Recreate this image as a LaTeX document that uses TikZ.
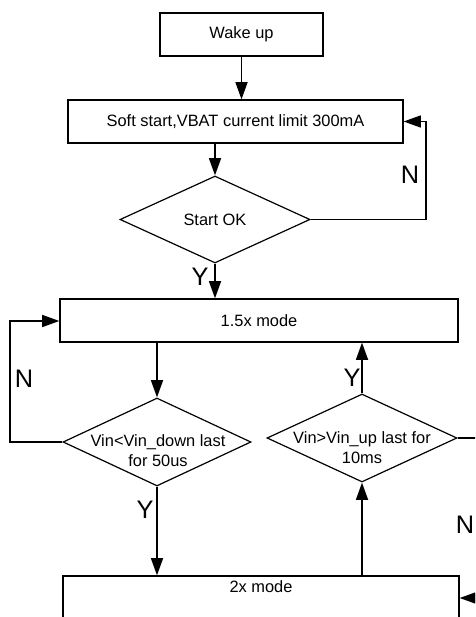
\documentclass[tikz,border=0pt]{standalone}
\usepackage{fontspec}
\setmainfont{Liberation Sans}
\usetikzlibrary{arrows.meta,shapes.geometric}
\begin{document}
\begin{tikzpicture}[x=0.75pt,y=-0.75pt,
  box/.style={draw, rectangle, line width=0.9pt, inner sep=0pt, font=\fontsize{12.3}{14}\selectfont},
  dia/.style={draw, diamond, line width=0.9pt, inner sep=0pt},
  txt/.style={font=\fontsize{12.3}{15}\selectfont, align=center, inner sep=0pt},
  yn/.style={font=\fontsize{19}{22}\selectfont, inner sep=0pt},
  conn/.style={line width=1.3pt, -{Triangle[length=13pt,width=9pt]}},
  thickline/.style={line width=1.3pt}]
\useasboundingbox (0,0) rectangle (475,617);
\clip (0,0) rectangle (475,617);

\node[box, minimum width=122.25pt, minimum height=32.25pt] (wake) at (241.5,34.5) {Wake up};
\node[box, minimum width=251.25pt, minimum height=32.25pt] (soft) at (235.5,121.5) {Soft start,VBAT current limit 300mA};
\node[dia, minimum width=142.5pt, minimum height=65.25pt] (ok) at (215,219.5) {};
\node[txt] (oktxt) at (ok) {Start OK};
\node[box, minimum width=298.5pt, minimum height=32.25pt] (fifteen) at (259,320.5) {1.5x mode};
\node[dia, minimum width=141pt, minimum height=66pt] (d1) at (157,442) {};
\node[txt] (d1txt) at (158,451) {Vin<Vin\_down last\\for 50us};
\node[dia, minimum width=142.5pt, minimum height=66pt] (d2) at (362,438) {};
\node[txt] (d2txt) at (362,448) {Vin>Vin\_up last for\\10ms};
\node[box, minimum width=297pt, minimum height=45pt] (two) at (261,606) {};
\node[txt] (twotxt) at (261,587) {2x mode};

\coordinate (r1) at (426,121.5);
\coordinate (l1) at (10,321);
\coordinate (r2) at (487,598);

\draw[conn] (wake.south) -- (soft.north -| wake.south);
\draw[conn] (soft.south -| ok.north) -- (ok.north);
\draw[conn] (ok.east) -| (r1) -- (soft.east |- r1);
\draw[conn] (ok.south) -- (fifteen.north -| ok.south);
\draw[thickline] (fifteen.south -| d1.north) -- (fifteen.south);
\draw[conn] (fifteen.south -| d1.north) -- (d1.north);
\draw[conn] (d1.west) -| (l1) -- (fifteen.west |- l1);
\draw[conn] (d1.south) -- (two.north -| d1.south);
\draw[conn] (d2.north) -- (fifteen.south -| d2.north);
\draw[conn] (two.north -| d2.south) -- (d2.south);
\draw[conn] (d2.east) -| (r2) -- (two.east |- r2);

\node[yn] (n1) at (410,175) {N};
\node[yn] (y1) at (200,277) {Y};
\node[yn] (n2) at (24,379) {N};
\node[yn] (y2) at (352,378) {Y};
\node[yn] (y3) at (145,510) {Y};
\node[yn] (n3) at (465,525) {N};
\end{tikzpicture}
\end{document}
